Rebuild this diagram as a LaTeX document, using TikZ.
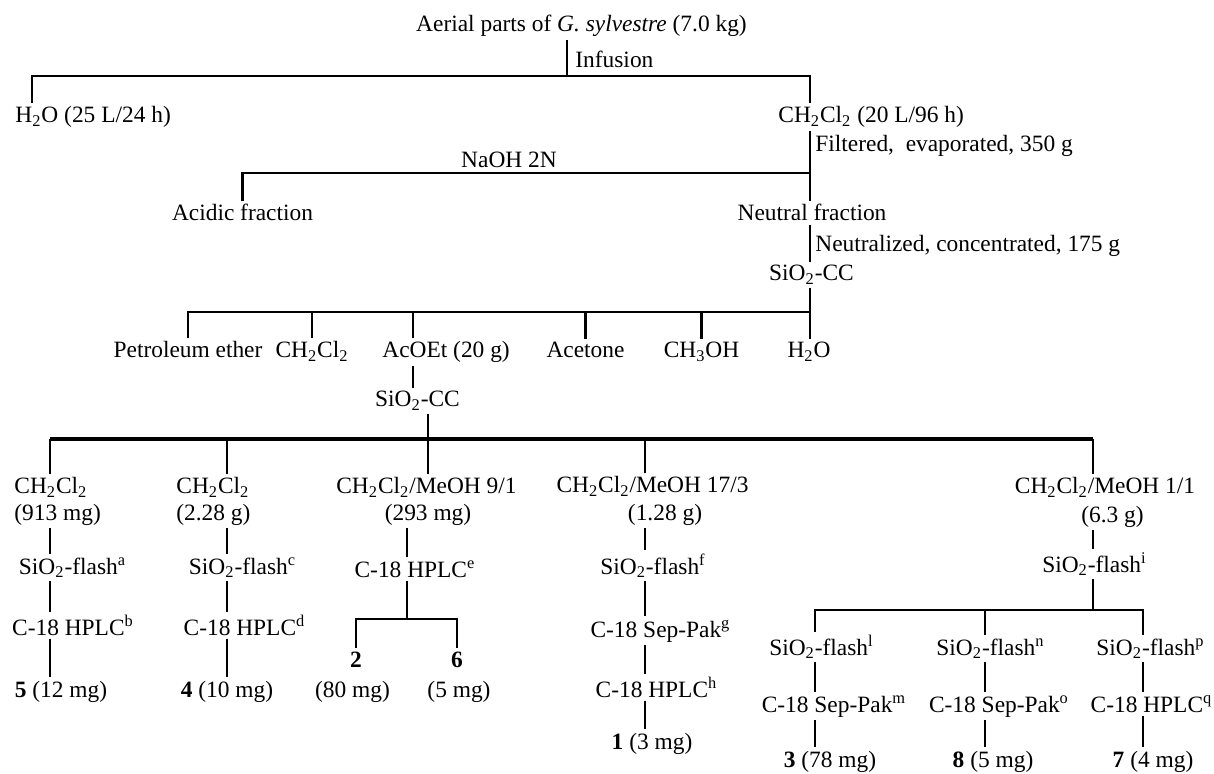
\documentclass[tikz,border=0pt]{standalone}
\usepackage{fontspec}
\setmainfont{Liberation Serif}
\newcommand{\DCM}{CH\textsubscript{2}Cl\textsubscript{2}}
\newcommand{\SiO}{SiO\textsubscript{2}}

\begin{document}
\begin{tikzpicture}[
  x=0.5pt, y=-0.5pt,
  txt/.style={
    inner sep=1.5pt,
    anchor=base,
    font=\fontsize{11.7}{13}\selectfont
  },
  txtl/.style={txt, anchor=base west},
  bar/.style={draw=black, line width=1.1pt},
  topbar/.style={bar, line width=1.3pt},
  bigbar/.style={bar, line width=2pt}
]
\useasboundingbox (0,0) rectangle (1214,774);

% extraction
\node[txt] (title) at (581.5,32) {Aerial parts of \textit{G. sylvestre} (7.0 kg)};
\node[txtl] (infusion) at (572,68) {Infusion};
\node[txtl] (water) at (12,123) {H\textsubscript{2}O (25 L/24 h)};
\node[txtl] (dcm) at (775,123) {\DCM{} (20 L/96 h)};
\node[txtl] (filtered) at (812,152) {Filtered,\ \ evaporated, 350 g};
\node[txt] (naoh) at (509,168) {NaOH 2N};
\node[txt] (acidic) at (242.5,221) {Acidic fraction};
\node[txt] (neutral) at (812,221) {Neutral fraction};
\node[txtl] (neutralized) at (812,252) {Neutralized, concentrated, 175 g};
\node[txt] (cc1) at (811.5,281) {\SiO-CC};

% first column
\node[txt] (petrol) at (188,358) {Petroleum ether};
\node[txt] (dcm2) at (312,358) {\DCM};
\node[txtl] (acoet) at (379,358) {AcOEt (20 g)};
\node[txt] (acetone) at (585.5,358) {Acetone};
\node[txt] (meoh) at (701.5,358) {CH\textsubscript{3}OH};
\node[txt] (water2) at (809,358) {H\textsubscript{2}O};
\node[txt] (cc2) at (417.5,407) {\SiO-CC};

% fractions of the AcOEt extract
\node[txtl] (f1) at (11,494) {\DCM};
\node[txtl] (f1amt) at (11,520) {(913 mg)};
\node[txt] (fl1) at (72.5,574) {\SiO-flash\textsuperscript{a}};
\node[txt] (hp1) at (73,635) {C-18 HPLC\textsuperscript{b}};
\node[txt] (p5) at (61,697) {\textbf{5} (12 mg)};

\node[txtl] (f2) at (173,494) {\DCM};
\node[txtl] (f2amt) at (173,520) {(2.28 g)};
\node[txt] (fl2) at (242.5,574) {\SiO-flash\textsuperscript{c}};
\node[txt] (hp2) at (244.5,635) {C-18 HPLC\textsuperscript{d}};
\node[txt] (p4) at (227,697) {\textbf{4} (10 mg)};

\node[txt] (f3) at (426.5,494) {\DCM/MeOH 9/1};
\node[txt] (f3amt) at (428,520) {(293 mg)};
\node[txt] (hp3) at (415,577) {C-18 HPLC\textsuperscript{e}};
\node[txt] (p2) at (356,667) {\textbf{2}};
\node[txt] (p2amt) at (352.5,697) {(80 mg)};
\node[txt] (p6) at (457,667) {\textbf{6}};
\node[txt] (p6amt) at (459,697) {(5 mg)};

\node[txt] (f4) at (652.5,493) {\DCM/MeOH 17/3};
\node[txt] (f4amt) at (665,520) {(1.28 g)};
\node[txt] (fl4) at (653,574) {\SiO-flash\textsuperscript{f}};
\node[txt] (sp4) at (660.5,637) {C-18 Sep-Pak\textsuperscript{g}};
\node[txt] (hp4) at (656.5,697) {C-18 HPLC\textsuperscript{h}};
\node[txt] (p1) at (652,749) {\textbf{1} (3 mg)};

\node[txt] (f5) at (1105,494) {\DCM/MeOH 1/1};
\node[txt] (f5amt) at (1112.5,522) {(6.3 g)};
\node[txt] (fl5) at (1094.5,572) {\SiO-flash\textsuperscript{i}};
\node[txt] (fl5a) at (821.5,655) {\SiO-flash\textsuperscript{l}};
\node[txt] (fl5b) at (990.5,655) {\SiO-flash\textsuperscript{n}};
\node[txt] (fl5c) at (1150.5,655) {\SiO-flash\textsuperscript{p}};
\node[txt] (sp5a) at (834,712) {C-18 Sep-Pak\textsuperscript{m}};
\node[txt] (sp5b) at (999,712) {C-18 Sep-Pak\textsuperscript{o}};
\node[txt] (hp5c) at (1151.5,712) {C-18 HPLC\textsuperscript{q}};
\node[txt] (p3) at (830,767) {\textbf{3} (78 mg)};
\node[txt] (p8) at (993,767) {\textbf{8} (5 mg)};
\node[txt] (p7) at (1153,767) {\textbf{7} (4 mg)};

% junctions and line columns
\coordinate (jInf) at (567,76);
\coordinate (xW) at (32,0);
\coordinate (xD) at (810,0);
\coordinate (jNaOH) at (810,173);
\coordinate (jSol) at (810,312);
\coordinate (xAc) at (413,0);
\coordinate (jBig) at (428,439);
\coordinate (x1) at (50,0);
\coordinate (x2) at (227,0);
\coordinate (x3) at (407,0);
\coordinate (x4) at (645,0);
\coordinate (x5) at (1093,0);
\coordinate (j26) at (407,619);
\coordinate (j5) at (1093,610);
\coordinate (x5a) at (815,0);
\coordinate (x5b) at (985,0);
\coordinate (x5c) at (1143,0);

\draw[topbar] (title.south -| jInf) -- (jInf);
\draw[topbar] (water.north -| xW) |- (jInf) -| (dcm.north -| xD);
\draw[bar] (dcm.south -| xD) -- (neutral.north -| xD);
\draw[topbar] (acidic.north) |- (jNaOH);
\draw[bar] (neutral.south -| xD) -- (cc1.north -| xD);
\draw[bar] (cc1.south -| xD) -- (water2.north -| xD);
\draw[topbar] (petrol.north) |- (jSol);
\foreach \n in {dcm2, acetone, meoh}
  \draw[bar] (\n.north) -- (\n.north |- jSol);
\draw[bar] (acoet.north -| xAc) -- (jSol -| xAc);
\draw[bar] (acoet.south -| xAc) -- (cc2.north -| xAc);

\draw[bar] (cc2.south -| jBig) -- (f3.north -| jBig);
\draw[bigbar] (jBig -| x1) -- (jBig -| x5);
\foreach \n/\x in {f1/x1, f2/x2, f4/x4, f5/x5}
  \draw[bar] (\n.north -| \x) -- (jBig -| \x);

\foreach \a/\b/\x in {f1amt/fl1/x1, fl1/hp1/x1, hp1/p5/x1,
    f2amt/fl2/x2, fl2/hp2/x2, hp2/p4/x2, f3amt/hp3/x3,
    f4amt/fl4/x4, fl4/sp4/x4, sp4/hp4/x4, hp4/p1/x4, f5amt/fl5/x5,
    fl5a/sp5a/x5a, sp5a/p3/x5a, fl5b/sp5b/x5b, sp5b/p8/x5b,
    fl5c/hp5c/x5c, hp5c/p7/x5c}
  \draw[bar] (\a.south -| \x) -- (\b.north -| \x);

\draw[bar] (hp3.south -| j26) -- (j26);
\draw[bar] (p2.north) |- (j26) -| (p6.north);
\draw[bar] (fl5.south -| j5) -- (j5);
\draw[bar] (fl5a.north -| x5a) |- (j5) -| (fl5c.north -| x5c);
\draw[bar] (fl5b.north -| x5b) -- (j5 -| x5b);

\end{tikzpicture}
\end{document}
